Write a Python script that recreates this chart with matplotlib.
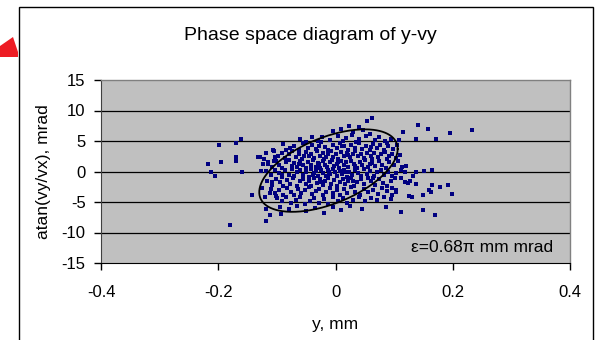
import numpy as np
import matplotlib.pyplot as plt
from matplotlib.patches import Rectangle, Polygon

plt.rcParams['font.family'] = ['Liberation Sans', 'DejaVu Sans']
plt.rcParams['axes.unicode_minus'] = False

# beam particles: (y [mm], atan(vy/vx) [mrad])
core_points = [
    (0.063, 8.8), (0.054, 8.3), (0.023, 7.5), (0.040, 7.3), (0.010, 6.9), (-0.005, 6.6), (0.030, 6.4), (0.047, 6.8),
    (-0.060, 5.4), (-0.040, 5.6), (-0.023, 5.7), (-0.010, 5.2), (0.005, 5.9), (0.018, 5.5), (0.028, 6.0), (0.040, 5.3),
    (0.052, 5.8), (0.067, 5.1), (0.075, 5.6), (0.085, 5.0), (-0.030, 5.0), (0.012, 5.0), (0.058, 6.2), (-0.050, 4.9),
    (0.095, 5.3), (0.035, 4.9),
    (-0.090, 4.5), (-0.078, 3.8), (-0.070, 4.2), (-0.062, 3.6), (-0.055, 4.6), (-0.047, 3.9), (-0.040, 4.3), (-0.033, 3.7),
    (-0.025, 4.8), (-0.018, 4.0), (-0.012, 3.5), (-0.005, 4.4), (0.002, 3.8), (0.008, 4.7), (0.015, 4.1), (0.021, 3.6),
    (0.027, 4.4), (0.033, 3.9), (0.040, 4.6), (0.046, 3.7), (0.052, 4.2), (0.058, 3.5), (0.064, 4.5), (0.070, 3.9),
    (0.076, 4.3), (0.082, 3.6), (0.090, 4.1), (0.098, 3.7), (0.105, 4.4), (-0.085, 3.5), (-0.028, 4.1), (0.011, 4.2),
    (0.061, 4.0), (0.088, 4.7),
    (-0.105, 3.4), (-0.098, 2.6), (-0.092, 3.1), (-0.086, 2.2), (-0.080, 2.9), (-0.074, 3.3), (-0.068, 2.4), (-0.062, 2.8),
    (-0.057, 2.1), (-0.051, 3.2), (-0.046, 2.5), (-0.041, 2.9), (-0.036, 2.2), (-0.031, 3.4), (-0.027, 2.6), (-0.022, 3.0),
    (-0.017, 2.3), (-0.013, 2.8), (-0.008, 3.3), (-0.004, 2.4), (0.001, 2.9), (0.005, 2.1), (0.010, 3.2), (0.014, 2.6),
    (0.019, 3.0), (0.024, 2.3), (0.029, 2.8), (0.034, 3.3), (0.039, 2.5), (0.044, 2.9), (0.049, 2.2), (0.054, 3.1),
    (0.060, 2.6), (0.066, 3.0), (0.072, 2.3), (0.078, 2.8), (0.085, 3.2), (0.091, 2.5), (0.097, 2.9), (0.104, 2.2),
    (0.110, 2.7), (-0.053, 2.6), (-0.019, 2.1), (0.021, 2.7), (0.063, 2.1), (0.087, 2.0),
    (-0.115, 1.3), (-0.108, 0.8), (-0.102, 1.7), (-0.096, 1.1), (-0.091, 0.6), (-0.085, 1.5), (-0.080, 1.9), (-0.075, 0.9),
    (-0.070, 1.4), (-0.065, 0.7), (-0.060, 1.8), (-0.056, 1.1), (-0.051, 0.6), (-0.047, 1.6), (-0.042, 1.0), (-0.038, 1.9),
    (-0.034, 0.8), (-0.030, 1.4), (-0.026, 0.5), (-0.022, 1.7), (-0.018, 1.1), (-0.014, 0.7), (-0.010, 1.5), (-0.006, 1.9),
    (-0.002, 0.9), (0.002, 1.3), (0.006, 0.6), (0.010, 1.7), (0.014, 1.0), (0.018, 1.5), (0.022, 0.7), (0.026, 1.8),
    (0.031, 1.2), (0.036, 0.6), (0.041, 1.6), (0.046, 1.0), (0.051, 1.9), (0.056, 0.8), (0.062, 1.4), (0.068, 0.9),
    (0.074, 1.7), (0.080, 1.1), (0.086, 0.6), (0.092, 1.5), (0.099, 1.0), (0.106, 1.8), (0.113, 0.7), (-0.028, 1.2),
    (0.004, 1.6), (0.033, 0.9), (-0.063, 1.2), (0.058, 1.3),
    (-0.118, 0.1), (-0.110, -0.6), (-0.103, 0.3), (-0.097, -0.3), (-0.091, -0.9), (-0.086, 0.2), (-0.080, -0.5), (-0.075, 0.4),
    (-0.070, -0.8), (-0.065, -0.1), (-0.060, 0.3), (-0.055, -0.6), (-0.050, 0.0), (-0.046, -0.9), (-0.041, 0.4), (-0.037, -0.3),
    (-0.033, 0.1), (-0.029, -0.7), (-0.025, 0.3), (-0.021, -0.2), (-0.017, -0.8), (-0.013, 0.2), (-0.009, -0.4), (-0.005, 0.4),
    (-0.001, -0.1), (0.003, -0.7), (0.007, 0.1), (0.011, -0.4), (0.015, 0.3), (0.019, -0.9), (0.023, 0.0), (0.028, -0.5),
    (0.033, 0.2), (0.038, -0.2), (0.043, -0.8), (0.048, 0.4), (0.053, -0.4), (0.059, 0.1), (0.065, -0.7), (0.071, -0.1),
    (0.077, 0.3), (0.083, -0.5), (0.090, 0.0), (0.097, -0.8), (0.104, -0.3), (0.111, 0.2), (-0.011, 0.0), (0.016, -0.1),
    (-0.039, -0.5),
    (-0.116, -1.5), (-0.108, -2.2), (-0.101, -1.2), (-0.095, -1.8), (-0.089, -2.4), (-0.083, -1.4), (-0.077, -2.0), (-0.072, -1.1),
    (-0.066, -2.3), (-0.061, -1.6), (-0.056, -1.2), (-0.051, -2.1), (-0.046, -1.5), (-0.041, -2.4), (-0.036, -1.1), (-0.032, -1.9),
    (-0.027, -1.3), (-0.022, -2.2), (-0.018, -1.6), (-0.013, -1.1), (-0.008, -2.0), (-0.003, -1.4), (0.002, -2.4), (0.007, -1.7),
    (0.012, -1.2), (0.017, -2.1), (0.022, -1.5), (0.027, -1.0), (0.032, -2.3), (0.037, -1.8), (0.043, -1.3), (0.049, -2.0),
    (0.055, -1.1), (0.061, -1.6), (0.067, -2.2), (0.074, -1.3), (0.081, -1.9), (0.088, -2.4), (0.095, -1.5), (0.102, -1.1),
    (-0.024, -1.8), (0.030, -1.6), (0.064, -1.0),
    (-0.110, -2.8), (-0.103, -3.5), (-0.096, -3.0), (-0.089, -3.8), (-0.082, -2.7), (-0.076, -3.3), (-0.070, -3.9), (-0.064, -2.9),
    (-0.058, -3.6), (-0.052, -3.1), (-0.046, -2.6), (-0.040, -3.7), (-0.034, -3.2), (-0.028, -2.8), (-0.022, -3.9), (-0.016, -3.4),
    (-0.010, -2.7), (-0.004, -3.6), (0.002, -3.0), (0.008, -3.8), (0.014, -2.9), (0.020, -3.5), (0.027, -2.6), (0.034, -3.3),
    (0.041, -3.9), (0.048, -2.8), (0.056, -3.4), (0.064, -3.0), (0.072, -3.7), (0.080, -2.7), (0.088, -3.2), (0.096, -3.9),
    (0.104, -3.0),
    (-0.100, -4.3), (-0.092, -4.9), (-0.084, -4.1), (-0.076, -5.2), (-0.068, -4.6), (-0.060, -4.2), (-0.052, -5.4), (-0.044, -4.8),
    (-0.036, -4.3), (-0.028, -5.1), (-0.020, -4.5), (-0.012, -5.3), (-0.004, -4.2), (0.004, -4.9), (0.012, -4.4), (0.020, -5.2),
    (0.030, -4.6), (0.040, -4.1), (0.050, -4.8), (0.060, -4.3), (0.070, -4.6), (0.082, -4.2), (0.094, -4.5),
    (-0.095, -5.8), (-0.080, -6.2), (-0.065, -5.7), (-0.050, -6.5), (-0.035, -6.0), (-0.020, -6.8), (-0.005, -5.9), (0.010, -6.3),
    (0.025, -5.6), (0.045, -6.1), (0.086, -5.9),
]

# particles lying away from the core
left_tail = [
    (-0.217, 1.2), (-0.212, -0.1), (-0.206, -0.7), (-0.198, 4.3), (-0.195, 1.6), (-0.180, -8.8), (-0.169, 2.3), (-0.170, 1.8),
    (-0.169, 4.7), (-0.162, 5.4), (-0.160, -0.1), (-0.143, -3.85), (-0.132, 2.3), (-0.128, 2.3), (-0.127, 0.1), (-0.125, -2.65),
    (-0.123, 1.2), (-0.122, 2.0), (-0.121, -4.1), (-0.119, 3.1), (-0.119, -8.1), (-0.118, -6.2), (-0.115, 1.6), (-0.112, -7.2),
    (-0.111, -3.6), (-0.109, -1.7), (-0.107, 3.5), (-0.105, 1.8), (-0.104, 2.4), (-0.101, -4.0), (-0.093, -7.0), (-0.092, -0.5),
    (-0.090, 4.5),
]
right_tail = [
    (0.233, 6.8), (0.195, 6.3), (0.171, 5.4), (0.158, 7.0), (0.140, 7.6), (0.137, 5.3), (0.115, 6.5), (0.109, 5.2),
    (0.165, 0.25), (0.151, 0.1), (0.138, 0.0), (0.118, -0.1), (0.132, -0.7), (0.127, -1.6), (0.124, -1.9), (0.137, -2.1),
    (0.119, -1.7), (0.165, -2.2), (0.179, -2.5), (0.192, -2.2), (0.159, -3.0), (0.163, -3.3), (0.199, -3.7), (0.125, -4.0),
    (0.131, -4.1), (0.149, -3.85), (0.150, -6.3), (0.169, -7.1), (0.111, -6.6), (0.086, -5.9), (0.096, -2.65), (0.104, -3.3),
    (0.120, 0.9), (0.112, -1.0),
]

# emittance ellipse (Twiss parameters)
emittance = 0.68      # pi mm mrad
beta_tw = 0.0205      # mm/mrad
alpha_tw = -0.615
ellipse_center = (-0.012, 0.15)

yticks = [-15, -10, -5, 0, 5, 10, 15]
xticks = [-0.4, -0.2, 0, 0.2, 0.4]

fig = plt.figure(figsize=(5.96, 3.40), dpi=100)
fig.patch.set_facecolor('white')

# chart frame and the red marker peeking in at the left
fig.add_artist(Rectangle((19 / 596, -0.02), (593 - 19) / 596, 1 - 7 / 340 + 0.02,
                         transform=fig.transFigure, fill=False, edgecolor='black', linewidth=1.0))
red_tri = [(0, 1 - 46 / 340), (13 / 596, 1 - 37 / 340), (18 / 596, 1 - 52 / 340),
           (18 / 596, 1 - 57 / 340), (0, 1 - 57 / 340)]
fig.add_artist(Polygon(red_tri, closed=True, transform=fig.transFigure,
                       facecolor='#ED1C24', edgecolor='none'))

ax = fig.add_axes([101 / 596, 1 - 263 / 340, 469 / 596, 183 / 340])
ax.set_facecolor('#C0C0C0')

for g in yticks[1:-1]:
    ax.axhline(g, color='black', linewidth=0.9, zorder=1)

pts = np.array(core_points + left_tail + right_tail)
ax.scatter(pts[:, 0], pts[:, 1], s=5, marker='s', color='#000080', linewidths=0, zorder=3)

gamma_tw = (1 + alpha_tw ** 2) / beta_tw
t = np.linspace(0, 2 * np.pi, 400)
ey = np.sqrt(emittance * beta_tw) * np.cos(t)
eyp = -np.sqrt(emittance / beta_tw) * (alpha_tw * np.cos(t) + np.sin(t))
ax.plot(ey + ellipse_center[0], eyp + ellipse_center[1], color='black', linewidth=1.3, zorder=4)

ax.set_xlim(-0.4, 0.4)
ax.set_ylim(-15, 15)
ax.set_xticks(xticks)
ax.set_xticklabels(['-0.4', '-0.2', '0', '0.2', '0.4'])
ax.set_yticks(yticks)
ax.tick_params(axis='both', direction='out', length=5, width=1, colors='black',
               labelsize=12, pad=6)
ax.tick_params(axis='x', pad=11)

for side in ['top', 'right']:
    ax.spines[side].set_color('#808080')
    ax.spines[side].set_linewidth(1.0)
ax.spines['left'].set_color('#404040')
ax.spines['bottom'].set_color('black')

fig.text(310 / 596, 1 - 35 / 340, 'Phase space diagram of y-vy', fontsize=14,
         ha='center', va='center')
ax.set_xlabel('y, mm', fontsize=12.5, labelpad=12)
ax.set_ylabel('atan(vy/vx), mrad', fontsize=12.5, labelpad=8)

ax.text(0.964, 0.085, 'ε=0.68π mm mrad', transform=ax.transAxes,
        ha='right', va='center', fontsize=12.5, zorder=5)

fig.savefig('out.png', dpi=100)
